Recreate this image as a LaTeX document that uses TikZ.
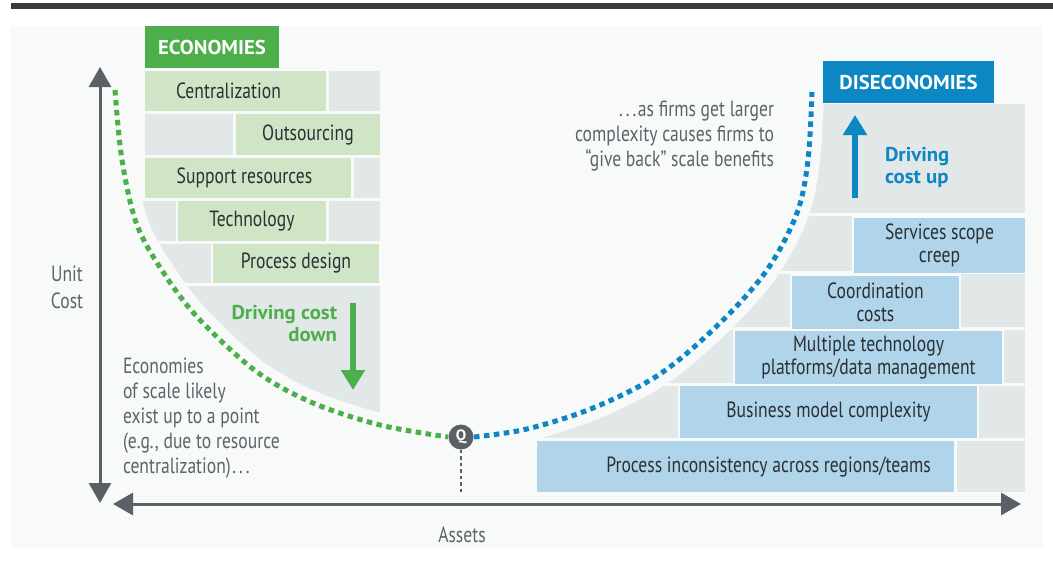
\documentclass[tikz,border=0pt]{standalone}
\usepackage{fontspec}
\setmainfont{PT Sans}[FakeStretch=0.80]
\newfontfamily\headfont{PT Sans}[FakeStretch=1.04]
\usetikzlibrary{arrows.meta}

\definecolor{topbar}{HTML}{3A3A3A}
\definecolor{panel}{HTML}{F8F9F9}
\definecolor{cellgray}{HTML}{E2E7E8}
\definecolor{ecogreen}{HTML}{4DAF4A}
\definecolor{ecolight}{HTML}{D0E5C6}
\definecolor{disblue}{HTML}{0D86C4}
\definecolor{dislight}{HTML}{B0D4EA}
\definecolor{axisgray}{HTML}{5A6066}
\definecolor{labeltext}{HTML}{2B3034}
\definecolor{notetext}{HTML}{5C656A}

\begin{document}
\begin{tikzpicture}[x=1pt,y=-1pt,
  every node/.style={inner sep=0pt,outer sep=0pt},
  cell/.style={fill=cellgray},
  lbl/.style={text=labeltext,align=center,font=\fontsize{22}{23}\selectfont},
  ecobox/.style={fill=ecolight,lbl},
  disbox/.style={fill=dislight,lbl},
  header/.style={text=white,font=\headfont\bfseries\fontsize{20}{22}\selectfont},
  note/.style={text=notetext,font=\fontsize{22}{25}\selectfont},
  axislbl/.style={text=notetext,font=\fontsize{22}{27}\selectfont,align=center},
  axisline/.style={draw=axisgray,line width=3pt},
  dotcurve/.style={line width=5pt,dash pattern=on 5.5pt off 4.5pt},
  gapband/.style={draw=panel,line width=24pt},
  drive/.style={font=\headfont\bfseries\fontsize{20}{22}\selectfont},
]
\useasboundingbox (0,0) rectangle (1053,560);

% page rule and panel
\fill[topbar] (11,3) rectangle (1053,9);
\fill[panel] (11,26) rectangle (1043,549);

% ---------- economies side: brick wall bounded by the falling curve ----------
\begin{scope}
  \clip (115,30) -- plot[smooth,tension=0.55] coordinates
    {(115,90) (122,160) (137,225) (165,275) (200,320) (257,372) (313,403) (380,425) (449,437)}
    -- (470,437) -- (470,30) -- cycle;
  % row 1
  \node[ecobox,minimum width=181pt,minimum height=40pt] (cen) at (235.5,91) {};
  \node[lbl] (centxt) at (228.5,91) {Centralization};
  \fill[cell] (329,71) rectangle (380,111);
  % row 2
  \fill[cell] (145,114) rectangle (233,155);
  \node[ecobox,minimum width=144pt,minimum height=41pt] (out) at (308,134.5) {Outsourcing};
  % row 3
  \node[ecobox,minimum width=206pt,minimum height=40pt] (sup) at (248,178) {};
  \node[lbl] (suptxt) at (244.5,178) {Support resources};
  \fill[cell] (354,158) rectangle (380,198);
  % row 4
  \fill[cell] (110,201) rectangle (176,241);
  \node[ecobox,minimum width=148pt,minimum height=40pt] (tec) at (252,221) {Technology};
  \fill[cell] (329,201) rectangle (380,241);
  % row 5
  \fill[cell] (110,244) rectangle (211,283);
  \node[ecobox,minimum width=166pt,minimum height=39pt] (pde) at (296,263.5) {Process design};
  % base
  \fill[cell] (110,286) rectangle (380,445);
\end{scope}
\draw[gapband] plot[smooth,tension=0.55] coordinates
  {(115,90) (122,160) (137,225) (165,275) (200,320) (257,372) (313,403) (380,425) (449,437)};

% ---------- diseconomies side: brick wall bounded by the rising curve ----------
\begin{scope}
  \clip (812,40) -- plot[smooth,tension=0.55] coordinates
    {(812,92) (808,160) (797,213) (767,270) (720,323) (660,374) (593,408) (527,429) (473,437)}
    -- (473,500) -- (1030,500) -- (1030,40) -- cycle;
  \fill[cell] (700,104) rectangle (1025,213);
  % services row
  \fill[cell] (700,216) rectangle (852,271);
  \node[disbox,minimum width=171pt,minimum height=55pt] (ssc) at (939.5,245) {Services scope\\creep};
  % coordination row
  \fill[cell] (700,274) rectangle (790,327);
  \node[disbox,minimum width=167pt,minimum height=53pt] (coo) at (875.5,302) {Coordination\\costs};
  \fill[cell] (961,274) rectangle (1025,327);
  % technology platforms row
  \fill[cell] (560,330) rectangle (733,383);
  \node[disbox,minimum width=267pt,minimum height=53pt] (mtp) at (868.5,357.5) {Multiple technology\\platforms/data management};
  \fill[cell] (1004,330) rectangle (1025,383);
  % business model row
  \fill[cell] (480,386) rectangle (678,438);
  \node[disbox,minimum width=297pt,minimum height=52pt] (bmc) at (828.5,412) {Business model complexity};
  \fill[cell] (979,386) rectangle (1025,438);
  % process row
  \node[disbox,minimum width=417pt,minimum height=51pt] (pin) at (745.5,466.5) {};
  \node[lbl] (pintxt) at (768.5,467) {Process inconsistency across regions/teams};
  \fill[cell] (957,441) rectangle (1025,492);
\end{scope}
\draw[gapband] plot[smooth,tension=0.55] coordinates
  {(812,92) (808,160) (797,213) (767,270) (720,323) (660,374) (593,408) (527,429) (473,437)};

% headers
\node[fill=ecogreen,minimum width=134pt,minimum height=42pt,header] (eco) at (212,47) {ECONOMIES};
\node[fill=disblue,minimum width=171pt,minimum height=42pt,header] (dis) at (908.5,82) {DISECONOMIES};

% cost curves meeting at the optimum Q
\node[circle,fill=axisgray,minimum size=25pt,text=white,
  font=\headfont\bfseries\fontsize{15}{15}\selectfont] (Q) at (461,437) {Q};
\draw[ecogreen,dotcurve] plot[smooth,tension=0.55] coordinates
  {(115,90) (122,160) (137,225) (165,275) (200,320) (257,372) (313,403) (380,425) (448,437)};
\draw[disblue,dotcurve] plot[smooth,tension=0.55] coordinates
  {(474,437) (527,429) (593,408) (660,374) (720,323) (767,270) (797,213) (808,160) (812,92)};
\coordinate (qfoot) at (461,492);
\draw[axisgray,line width=2.2pt,dash pattern=on 3.5pt off 3pt] (Q.south) -- (qfoot);

% axes
\coordinate (ytop) at (100,67);
\coordinate (ybot) at (100,503);
\coordinate (xleft) at (113,504);
\coordinate (xright) at (1021,504);
\draw[axisline,{Triangle[length=20pt,width=22pt]}-{Triangle[length=20pt,width=22pt]}] (ytop) -- (ybot);
\draw[axisline,{Triangle[length=20pt,width=22pt]}-{Triangle[length=20pt,width=22pt]}] (xleft) -- (xright);
\node[axislbl] (ucost) at (67,287) {Unit\\Cost};
\node[axislbl] (assets) at (462,535) {Assets};

% driving arrows
\coordinate (dntop) at (353,303);
\coordinate (dnend) at (353,390);
\draw[ecogreen,line width=6pt,-{Triangle[length=20pt,width=23pt]}] (dntop) -- (dnend);
\node[drive,text=ecogreen,align=right,anchor=east] (dcd) at (337,324) {Driving cost\\down};
\coordinate (upbot) at (855,198);
\coordinate (uptop) at (855,115);
\draw[disblue,line width=6.5pt,-{Triangle[length=20pt,width=23pt]}] (upbot) -- (uptop);
\node[drive,text=disblue,align=left,anchor=west] (dcu) at (885,167) {Driving\\cost up};

% annotations
\node[note,align=right,anchor=east] (later) at (774,136.5)
  {.\kern3pt.\kern3pt.\kern1.5pt as firms get larger\\complexity causes firms to\\“give back” scale benefits};
\node[note,align=left,anchor=west] (early) at (123,418)
  {Economies\\of scale likely\\exist up to a point\\(e.g., due to resource\\centralization)\kern1.5pt.\kern3pt.\kern3pt.};
\end{tikzpicture}
\end{document}
